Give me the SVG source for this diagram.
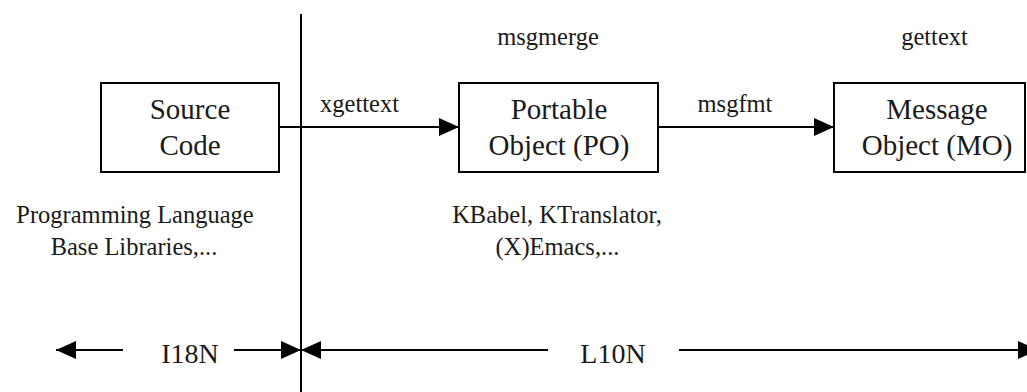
<svg xmlns="http://www.w3.org/2000/svg" width="1027" height="392" viewBox="0 0 1027 392">
<style>
  .box { fill: #ffffff; stroke: #000000; stroke-width: 2; }
  .ln { stroke: #000000; stroke-width: 2; fill: none; }
  .big { font-family: "Liberation Serif", "Times New Roman", serif; font-size: 29px; fill: #1a1a1a; text-anchor: middle; }
  .lbl { font-family: "Liberation Serif", "Times New Roman", serif; font-size: 24.5px; fill: #1a1a1a; text-anchor: middle; }
  .dim { font-family: "Liberation Serif", "Times New Roman", serif; font-size: 28px; fill: #1a1a1a; text-anchor: middle; }
</style>
<defs>
  <marker id="ah" viewBox="0 0 20 18" refX="20" refY="9" markerWidth="20" markerHeight="18" markerUnits="userSpaceOnUse" orient="auto">
    <path d="M0,0 L20,9 L0,18 Z" fill="#000000"/>
  </marker>
</defs>
<rect width="1027" height="392" fill="#ffffff"/>

<g id="divider">
  <line class="ln" x1="301" y1="14" x2="301" y2="392"/>
</g>

<g id="connectors">
  <line class="ln" x1="279" y1="127" x2="459" y2="127" marker-end="url(#ah)"/>
  <line class="ln" x1="658" y1="127" x2="834" y2="127" marker-end="url(#ah)"/>
  <line class="ln" x1="123" y1="350" x2="56" y2="350" marker-end="url(#ah)"/>
  <line class="ln" x1="234" y1="350" x2="301" y2="350" marker-end="url(#ah)"/>
  <line class="ln" x1="548" y1="350" x2="301" y2="350" marker-end="url(#ah)"/>
  <line class="ln" x1="679" y1="350" x2="1038" y2="350" marker-end="url(#ah)"/>
</g>

<g id="source-code">
  <rect class="box" x="101" y="83" width="178" height="89"/>
  <text class="big" x="190" y="118.5">Source</text>
  <text class="big" x="190" y="154.5">Code</text>
</g>

<g id="portable-object">
  <rect class="box" x="459" y="83" width="199" height="89"/>
  <text class="big" x="559" y="118.5">Portable</text>
  <text class="big" x="559" y="154.5">Object (PO)</text>
</g>

<g id="message-object">
  <rect class="box" x="834" y="83" width="191" height="89"/>
  <text class="big" x="937" y="118.5">Message</text>
  <text class="big" x="937" y="154.5">Object (MO)</text>
</g>

<g id="labels">
  <text class="lbl" x="548" y="45">msgmerge</text>
  <text class="lbl" x="934.5" y="45">gettext</text>
  <text class="lbl" x="359.5" y="112">xgettext</text>
  <text class="lbl" x="735" y="112">msgfmt</text>
  <text class="lbl" x="135" y="223">Programming Language</text>
  <text class="lbl" x="134" y="255">Base Libraries,...</text>
  <text class="lbl" x="557" y="223">KBabel, KTranslator,</text>
  <text class="lbl" x="557.5" y="255">(X)Emacs,...</text>
  <text class="dim" x="190" y="363">I18N</text>
  <text class="dim" x="613" y="363">L10N</text>
</g>
</svg>
